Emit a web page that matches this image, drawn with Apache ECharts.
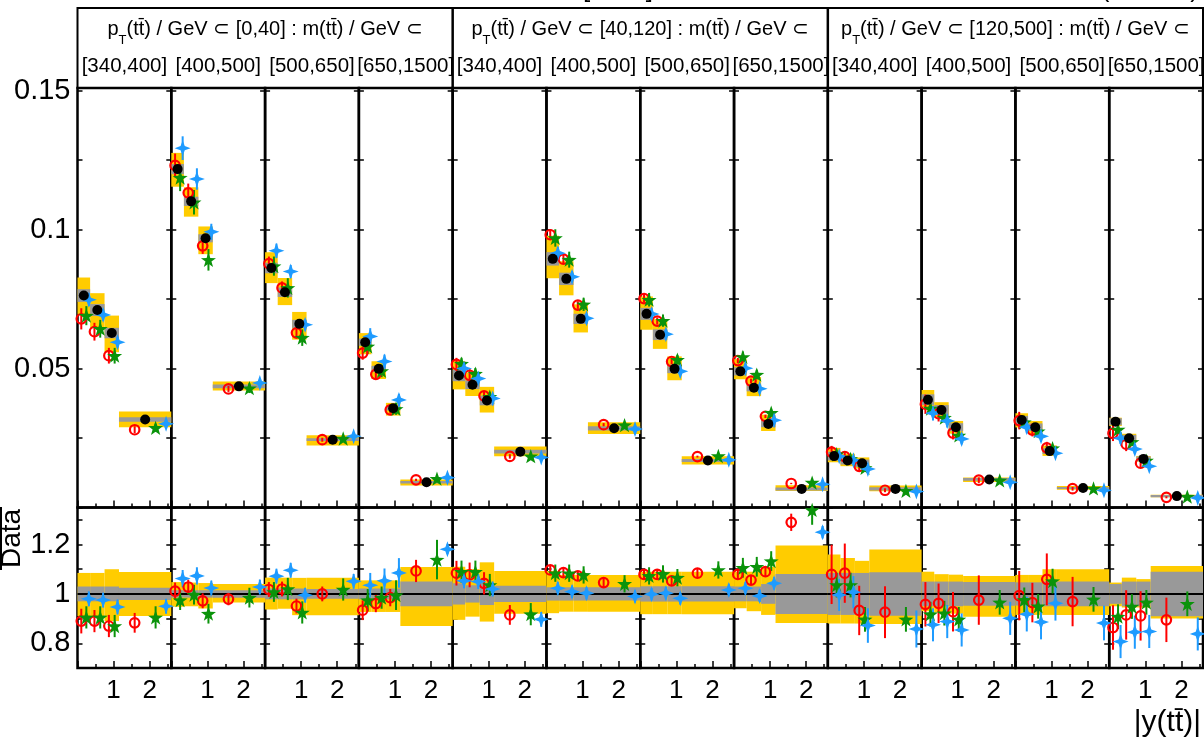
<!DOCTYPE html>
<html><head><meta charset="utf-8">
<script src="https://cdn.jsdelivr.net/npm/echarts@6/dist/echarts.min.js"></script>
<style>html,body{margin:0;padding:0;background:#fff}#c{width:1204px;height:742px}</style>
</head><body><div id="c"></div>
<script>
// ---------------- data ----------------
const yEdges = [0, 0.35, 0.75, 1.15, 2.6];
const ptBins = ['[0,40]', '[40,120]', '[120,500]'];
const massBins = ['[340,400]', '[400,500]', '[500,650]', '[650,1500]'];
const topYLabels = [0.05, 0.1, 0.15];
const ratioYLabels = [0.8, 1, 1.2];
const xTickLabels = [1, 2];

const dataXsec = [
  0.0763, 0.0711, 0.0628, 0.0317,
  0.1218, 0.1102, 0.0969, 0.0436,
  0.0862, 0.0775, 0.0661, 0.0244,
  0.0595, 0.0499, 0.0357, 0.0091,
  0.0475, 0.0442, 0.0385, 0.0201,
  0.0895, 0.0823, 0.0679, 0.0285,
  0.0697, 0.0622, 0.0499, 0.0169,
  0.0490, 0.0431, 0.0301, 0.0067,
  0.0185, 0.0169, 0.0159, 0.0067,
  0.0388, 0.0351, 0.0289, 0.0101,
  0.0315, 0.0289, 0.0203, 0.0070,
  0.0309, 0.0249, 0.0175, 0.0041];
const totUp = [
  0.085, 0.085, 0.10, 0.089,
  0.048, 0.046, 0.044, 0.04,
  0.066, 0.066, 0.065, 0.065,
  0.055, 0.055, 0.055, 0.109,
  0.11, 0.10, 0.128, 0.093,
  0.093, 0.077, 0.077, 0.077,
  0.09, 0.09, 0.09, 0.09,
  0.09, 0.09, 0.11, 0.196,
  0.16, 0.145, 0.134, 0.18,
  0.09, 0.08, 0.078, 0.073,
  0.077, 0.077, 0.10, 0.10,
  0.046, 0.066, 0.06, 0.113];
const totDn = [
  0.09, 0.09, 0.11, 0.089,
  0.052, 0.05, 0.059, 0.035,
  0.063, 0.06, 0.086, 0.086,
  0.073, 0.073, 0.073, 0.13,
  0.105, 0.092, 0.112, 0.08,
  0.078, 0.072, 0.072, 0.072,
  0.082, 0.082, 0.082, 0.082,
  0.058, 0.07, 0.085, 0.118,
  0.12, 0.12, 0.12, 0.122,
  0.07, 0.075, 0.08, 0.092,
  0.085, 0.085, 0.085, 0.085,
  0.05, 0.055, 0.055, 0.1];
const statUnc = [
  0.03, 0.03, 0.03, 0.025,
  0.015, 0.015, 0.015, 0.015,
  0.022, 0.022, 0.022, 0.02,
  0.022, 0.022, 0.022, 0.05,
  0.043, 0.035, 0.045, 0.033,
  0.027, 0.027, 0.027, 0.027,
  0.031, 0.031, 0.031, 0.031,
  0.03, 0.03, 0.04, 0.081,
  0.085, 0.085, 0.085, 0.088,
  0.05, 0.05, 0.05, 0.048,
  0.047, 0.047, 0.05, 0.05,
  0.04, 0.05, 0.05, 0.09];
const ratioRed = [
  0.89, 0.89, 0.87, 0.883,
  1.011, 1.028, 0.972, 0.979,
  1.018, 1.02, 0.951, 1.0,
  0.934, 0.961, 0.985, 1.093,
  1.084, 1.077, 1.043, 0.915,
  1.097, 1.086, 1.073, 1.046,
  1.079, 1.079, 1.053, 1.084,
  1.079, 1.056, 1.09, 1.29,
  1.079, 1.084, 0.933, 0.926,
  0.958, 0.962, 0.928, 0.975,
  0.993, 0.965, 1.059, 0.969,
  0.864, 0.915, 0.911, 0.895];
const ratioGreen = [
  0.905, 0.905, 0.87, 0.905,
  0.975, 0.997, 0.92, 0.985,
  1.008, 1.02, 0.925, 1.018,
  0.975, 0.985, 0.995, 1.139,
  1.09, 1.09, 1.036, 0.918,
  1.084, 1.084, 1.077, 1.041,
  1.073, 1.081, 1.066, 1.097,
  1.106, 1.11, 1.133, 1.34,
  1.036, 1.036, 0.897, 0.897,
  0.918, 0.922, 0.897, 0.966,
  0.976, 0.95, 1.052, 0.978,
  0.908, 0.949, 0.966, 0.96];
const ratioBlue = [
  0.98, 0.975, 0.947, 0.95,
  1.062, 1.073, 1.024, 1.028,
  1.072, 1.096, 0.995, 1.051,
  1.035, 1.053, 1.085, 1.181,
  1.053, 1.05, 1.02, 0.897,
  1.023, 1.009, 1.003, 0.99,
  0.999, 1.003, 0.982, 1.016,
  1.023, 0.992, 1.043, 1.25,
  0.996, 1.007, 0.872, 0.858,
  0.875, 0.888, 0.854, 0.901,
  0.918, 0.886, 0.962, 0.882,
  0.807, 0.845, 0.848, 0.838];
const errRed = [
  0.05, 0.045, 0.045, 0.04,
  0.035, 0.03, 0.03, 0.025,
  0.03, 0.03, 0.03, 0.03,
  0.04, 0.035, 0.035, 0.045,
  0.05, 0.05, 0.045, 0.04,
  0.02, 0.02, 0.02, 0.02,
  0.02, 0.02, 0.02, 0.02,
  0.02, 0.02, 0.02, 0.035,
  0.12, 0.12, 0.1, 0.105,
  0.09, 0.08, 0.08, 0.1,
  0.1, 0.08, 0.105, 0.1,
  0.09, 0.1, 0.1, 0.09];
const errGreen = [
  0.045, 0.045, 0.045, 0.045,
  0.04, 0.04, 0.04, 0.04,
  0.04, 0.045, 0.045, 0.045,
  0.045, 0.045, 0.06, 0.08,
  0.045, 0.045, 0.045, 0.045,
  0.035, 0.035, 0.035, 0.035,
  0.035, 0.035, 0.035, 0.035,
  0.04, 0.04, 0.04, 0.06,
  0.05, 0.05, 0.05, 0.05,
  0.05, 0.05, 0.05, 0.05,
  0.05, 0.05, 0.05, 0.05,
  0.05, 0.05, 0.05, 0.05];
const errBlue = [
  0.03, 0.03, 0.03, 0.03,
  0.035, 0.035, 0.03, 0.03,
  0.03, 0.03, 0.03, 0.03,
  0.05, 0.05, 0.06, 0.02,
  0.03, 0.03, 0.03, 0.03,
  0.025, 0.025, 0.025, 0.025,
  0.025, 0.025, 0.025, 0.025,
  0.025, 0.025, 0.025, 0.025,
  0.065, 0.065, 0.07, 0.075,
  0.067, 0.067, 0.067, 0.067,
  0.07, 0.07, 0.07, 0.07,
  0.067, 0.067, 0.067, 0.067];

// ---------------- style / layout ----------------
const FONT = "'Liberation Sans', Arial, Helvetica, sans-serif";
const YELLOW = '#ffcc00', GRAY = '#999999', RED = '#ff0000', GREEN = '#0a930a', BLUE = '#1e9bff';
const L = 77.5, R = 1203, T = 88, MID = 507.5, B = 668;
const PW = (R - L) / 12;
const STAR5 = 'path://M0,-10 L2.35,-3.24 L9.51,-3.09 L3.8,1.24 L5.88,8.09 L0,4 L-5.88,8.09 L-3.8,1.24 L-9.51,-3.09 L-2.35,-3.24 Z';
const STAR4 = 'path://M0,-10 L2.6,-2.6 L10,0 L2.6,2.6 L0,10 L-2.6,2.6 L-10,0 L-2.6,-2.6 Z';
const models = [
  {ratio: ratioRed, err: errRed, off: -0.2, color: RED, z: 4,
   symbol: 'circle', size: 9.5, item: {color: 'rgba(0,0,0,0)', borderColor: RED, borderWidth: 2.2, opacity: 1}},
  {ratio: ratioGreen, err: errGreen, off: 0.2, color: GREEN, z: 5,
   symbol: STAR5, size: 15, item: {color: GREEN, opacity: 1}},
  {ratio: ratioBlue, err: errBlue, off: 0.4, color: BLUE, z: 6,
   symbol: STAR4, size: 16, item: {color: BLUE, opacity: 1}}
];

function renderBox(params, api) {
  const cs = params.coordSys;
  const x0 = api.value(0), x1 = api.value(1), v = api.value(2);
  const up = api.value(3), dn = api.value(4), st = api.value(5);
  const rect = (lo, hi, fill) => {
    const a = api.coord([x0, hi]), b = api.coord([x1, lo]);
    const top = Math.max(a[1], cs.y), bot = Math.min(b[1], cs.y + cs.height);
    return {type: 'rect', shape: {x: a[0], y: top, width: b[0] - a[0], height: Math.max(0, bot - top)}, style: {fill}};
  };
  return {type: 'group', children: [rect(v * (1 - dn), v * (1 + up), YELLOW), rect(v * (1 - st), v * (1 + st), GRAY)]};
}
function errRenderer(color) {
  return function (params, api) {
    const cs = params.coordSys;
    const x = api.value(0), y = api.value(1), e = api.value(2);
    const a = api.coord([x, y + e]), b = api.coord([x, y - e]);
    const top = Math.max(a[1], cs.y), bot = Math.min(b[1], cs.y + cs.height);
    if (bot <= top) return null;
    return {type: 'line', shape: {x1: a[0], y1: top, x2: a[0], y2: bot}, style: {stroke: color, lineWidth: 2}};
  };
}
function renderUnity(params, api) {
  const a = api.coord([0, 1]), b = api.coord([2.6, 1]);
  return {type: 'line', shape: {x1: a[0], y1: a[1], x2: b[0], y2: b[1]}, style: {stroke: '#000', lineWidth: 2}};
}

const grid = [], xAxis = [], yAxis = [], series = [];
for (let g = 0; g < 24; g++) {
  const p = g % 12, isRatio = g >= 12;
  grid.push({left: L + p * PW, width: PW, top: isRatio ? MID : T, height: isRatio ? B - MID : MID - T,
    show: true, borderColor: '#000', borderWidth: 2.5, backgroundColor: 'transparent', outerBoundsMode: 'none', containLabel: false});
  xAxis.push({type: 'value', gridIndex: g, min: 0, max: 2.6, interval: 1,
    axisLine: {show: false}, splitLine: {show: false},
    axisTick: {show: true, inside: true, length: 7, lineStyle: {color: '#000', width: 1.5}},
    minorTick: {show: true, splitNumber: 2, length: 4, lineStyle: {color: '#000', width: 1.5}},
    axisLabel: {show: isRatio, margin: 10, fontSize: 26, fontFamily: FONT, color: '#000',
      formatter: v => xTickLabels.includes(Math.round(v * 10) / 10) ? String(Math.round(v)) : ''}});
  const yr = isRatio ? {min: 0.7, max: 1.35, interval: 0.1} : {min: 0, max: 0.151, interval: 0.025};
  const fmt = isRatio
    ? v => { const r = Math.round(v * 10) / 10; return ratioYLabels.includes(r) ? String(r) : ''; }
    : v => { const r = Math.round(v * 1000) / 1000; return topYLabels.includes(r) ? String(r) : ''; };
  for (const pos of ['left', 'right']) {
    yAxis.push(Object.assign({type: 'value', gridIndex: g, position: pos,
      axisLine: {show: false}, splitLine: {show: false},
      axisTick: {show: true, inside: true, length: 5, lineStyle: {color: '#000', width: 1.5}},
      axisLabel: {show: pos === 'left' && p === 0, margin: 7, fontSize: 29, fontFamily: FONT, color: '#000', formatter: fmt}}, yr));
  }
  const yi = 2 * g;
  // uncertainty boxes / bands
  const boxes = [0, 1, 2, 3].map(b => {
    const i = p * 4 + b;
    return [yEdges[b], yEdges[b + 1], isRatio ? 1 : dataXsec[i], totUp[i], totDn[i], statUnc[i]];
  });
  series.push({type: 'custom', xAxisIndex: g, yAxisIndex: yi, z: 1, silent: true, animation: false,
    renderItem: renderBox, encode: {x: [0, 1], y: 2}, data: boxes});
  if (isRatio) {
    series.push({type: 'custom', xAxisIndex: g, yAxisIndex: yi, z: 2, silent: true, animation: false,
      renderItem: renderUnity, encode: {x: 0, y: 1}, data: [[0, 1]]});
  }
  // predictions
  for (const m of models) {
    const pts = [0, 1, 2, 3].map(b => {
      const i = p * 4 + b, w = yEdges[b + 1] - yEdges[b], xc = (yEdges[b] + yEdges[b + 1]) / 2;
      const x = xc + m.off * w;
      return isRatio ? [x, m.ratio[i], m.err[i]] : [x, dataXsec[i] * m.ratio[i], dataXsec[i] * m.err[i]];
    });
    series.push({type: 'custom', xAxisIndex: g, yAxisIndex: yi, z: 3, silent: true, animation: false,
      renderItem: errRenderer(m.color), encode: {x: 0, y: 1}, data: pts});
    series.push({type: 'scatter', xAxisIndex: g, yAxisIndex: yi, z: m.z, silent: true, animation: false,
      symbol: m.symbol, symbolSize: m.size, symbolKeepAspect: true, itemStyle: m.item,
      data: pts.map(q => [q[0], q[1]])});
  }
  if (!isRatio) {
    series.push({type: 'scatter', xAxisIndex: g, yAxisIndex: yi, z: 7, silent: true, animation: false,
      symbol: 'circle', symbolSize: 10, itemStyle: {color: '#000', opacity: 1},
      data: [0, 1, 2, 3].map(b => [(yEdges[b] + yEdges[b + 1]) / 2, dataXsec[p * 4 + b]])});
  }
}

// ---------------- header & labels ----------------
const graphic = [];
graphic.push({type: 'rect', z: 10, shape: {x: L, y: 8, width: R - L, height: T - 8}, style: {fill: 'none', stroke: '#000', lineWidth: 2}});
for (let k = 1; k < 3; k++) {
  graphic.push({type: 'line', z: 10, shape: {x1: L + 4 * k * PW, y1: 8, x2: L + 4 * k * PW, y2: T}, style: {stroke: '#000', lineWidth: 2.5}});
}
const richHead = {
  n: {fontSize: 20, fontFamily: FONT, fill: '#000', lineHeight: 24},
  s: {fontSize: 13, fontFamily: FONT, fill: '#000', lineHeight: 13, padding: [23, 0, 0, 0]}
};
ptBins.forEach((pb, k) => {
  graphic.push({type: 'text', z: 10, x: L + (4 * k + 2) * PW, y: 29,
    style: {text: '{n|p}{s|T}{n|(tt\u0304) / GeV \u2282 ' + pb + ' : m(tt\u0304) / GeV \u2282}',
      rich: richHead, align: 'center', verticalAlign: 'middle'}});
  massBins.forEach((mb, j) => {
    graphic.push({type: 'text', z: 10, x: L + (4 * k + j + 0.5) * PW, y: 66,
      style: {text: mb, fontSize: 20.5, fontFamily: FONT, fill: '#000', align: 'center', verticalAlign: 'middle'}});
  });
});
graphic.push({type: 'text', z: 10, x: 1201, y: 723,
  style: {text: '|y(tt\u0304)|', fontSize: 30, fontFamily: FONT, fill: '#000', align: 'right', verticalAlign: 'middle'}});
graphic.push({type: 'text', z: 10, x: 12.5, y: 538.5, rotation: Math.PI / 2,
  style: {text: 'Data', fontSize: 28, fontFamily: FONT, fill: '#000', align: 'center', verticalAlign: 'middle'}});
graphic.push({type: 'line', z: 10, shape: {x1: 1, y1: 507, x2: 1, y2: 570}, style: {stroke: '#000', lineWidth: 2}});
graphic.push({type: 'text', z: 10, x: 1199, y: 3,
  style: {text: '(13 TeV)', fontSize: 26, fontFamily: FONT, fill: '#000', align: 'right', verticalAlign: 'bottom'}});
graphic.push({type: 'text', z: 10, x: 583, y: 3,
  style: {text: '[', fontSize: 26, fontFamily: FONT, fill: '#000', align: 'left', verticalAlign: 'bottom'}});
graphic.push({type: 'text', z: 10, x: 653, y: 3,
  style: {text: ']', fontSize: 26, fontFamily: FONT, fill: '#000', align: 'right', verticalAlign: 'bottom'}});

const chart = echarts.init(document.getElementById('c'), null, {renderer: 'canvas'});
chart.setOption({animation: false, backgroundColor: '#fff', grid, xAxis, yAxis, series, graphic});
</script></body></html>
